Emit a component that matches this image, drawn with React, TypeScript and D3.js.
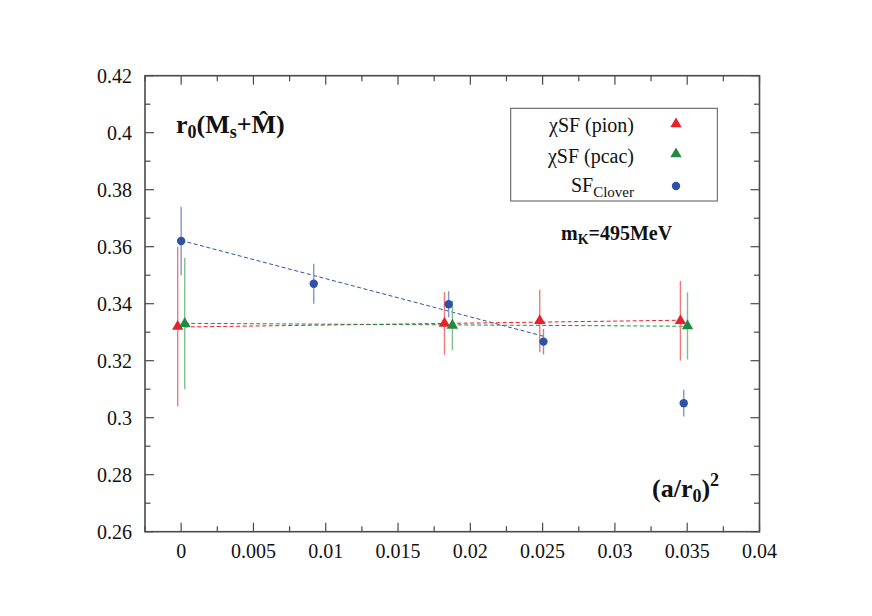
import React from "react";
import * as d3 from "d3";

const pionX = [-0.00024, 0.01821, 0.0248, 0.03453];
const pionY = [0.332, 0.3331, 0.334, 0.334];
const pionErr = [0.028, 0.011, 0.011, 0.014];

const pcacX = [0.00025, 0.01876, 0.03502];
const pcacY = [0.333, 0.3324, 0.3322];
const pcacErr = [0.023, 0.0087, 0.0118];

const cloverX = [0, 0.00917, 0.0185, 0.02506, 0.03476];
const cloverY = [0.362, 0.347, 0.3398, 0.3267, 0.3051];
const cloverErr = [0.012, 0.007, 0.0046, 0.0045, 0.0047];

const pionFitX = [-0.00024, 0.0345];
const pionFitY = [0.3318, 0.3342];
const pcacFitX = [0.00025, 0.0348];
const pcacFitY = [0.3331, 0.3321];
const cloverFitX = [0, 0.0252];
const cloverFitY = [0.3622, 0.3284];

const xTicks = [0, 0.005, 0.01, 0.015, 0.02, 0.025, 0.03, 0.035, 0.04];
const xTickLabels = ["0", "0.005", "0.01", "0.015", "0.02", "0.025", "0.03", "0.035", "0.04"];
const yTicks = [0.26, 0.28, 0.3, 0.32, 0.34, 0.36, 0.38, 0.4, 0.42];
const yTickLabels = ["0.26", "0.28", "0.3", "0.32", "0.34", "0.36", "0.38", "0.4", "0.42"];

const RED = "#e8202a";
const RED_BAR = "#f07a7a";
const GREEN = "#218a40";
const GREEN_BAR = "#7fbf8c";
const BLUE = "#2f52a6";
const BLUE_BAR = "#8494cc";

const FONT = "Liberation Serif, Times New Roman, Times, DejaVu Serif, serif";

export default function App() {
  const W = 872, H = 616;
  const L = 145, R = 759.5, T = 75.7, B = 531.7;
  const x = d3.scaleLinear().domain([-0.0025, 0.04]).range([L, R]);
  const y = d3.scaleLinear().domain([0.26, 0.42]).range([B, T]);
  const axisColor = "#4a4a4a";
  const ts = (size: number, bold = false): React.CSSProperties => ({
    fontFamily: FONT, fontSize: size, fontWeight: bold ? "bold" : "normal",
  });

  const minorX = d3.range(-0.0025, 0.04001, 0.0025);
  const minorY = d3.range(0.26, 0.42001, 0.01);
  const isMajorX = (v: number) => Math.abs(v / 0.005 - Math.round(v / 0.005)) < 1e-6;
  const isMajorY = (v: number) => Math.abs((v - 0.26) / 0.02 - Math.round((v - 0.26) / 0.02)) < 1e-6;

  const tri = d3.symbol().type(d3.symbolTriangle).size(56)();
  const line = d3.line<[number, number]>().x((d) => x(d[0])).y((d) => y(d[1]));

  const errBars = (xs: number[], ys: number[], es: number[], color: string, key: string) =>
    xs.map((xv, i) => (
      <line key={key + i} x1={x(xv)} x2={x(xv)} y1={y(ys[i] - es[i])} y2={y(ys[i] + es[i])}
        stroke={color} strokeWidth={1.4} />
    ));

  const fit = (xs: number[], ys: number[], color: string) => (
    <path d={line(xs.map((v, i) => [v, ys[i]] as [number, number])) || ""} fill="none"
      stroke={color} strokeWidth={1} strokeDasharray="4,2.5" />
  );

  return (
    <svg width={W} height={H} style={{ position: "absolute", left: 0, top: 0 }}>
      <rect x={0} y={0} width={W} height={H} fill="#fff" />
      {minorX.map((v, i) => {
        const len = isMajorX(v) ? 9 : 5.5;
        return (
          <g key={"tx" + i}>
            <line x1={x(v)} x2={x(v)} y1={B} y2={B - len} stroke={axisColor} strokeWidth={1.2} />
            <line x1={x(v)} x2={x(v)} y1={T} y2={T + len} stroke={axisColor} strokeWidth={1.2} />
          </g>
        );
      })}
      {minorY.map((v, i) => {
        const len = isMajorY(v) ? 9 : 5.5;
        return (
          <g key={"ty" + i}>
            <line x1={L} x2={L + len} y1={y(v)} y2={y(v)} stroke={axisColor} strokeWidth={1.2} />
            <line x1={R} x2={R - len} y1={y(v)} y2={y(v)} stroke={axisColor} strokeWidth={1.2} />
          </g>
        );
      })}
      <rect x={L} y={T} width={R - L} height={B - T} fill="none" stroke={axisColor} strokeWidth={1.6} />
      {xTicks.map((v, i) => (
        <text key={"xl" + i} x={x(v)} y={558} textAnchor="middle" style={ts(20)} fill="#111">
          {xTickLabels[i]}
        </text>
      ))}
      {yTicks.map((v, i) => (
        <text key={"yl" + i} x={132} y={y(v) + 7} textAnchor="end" style={ts(20)} fill="#111">
          {yTickLabels[i]}
        </text>
      ))}
      {fit(cloverFitX, cloverFitY, BLUE)}
      {fit(pionFitX, pionFitY, RED)}
      {fit(pcacFitX, pcacFitY, GREEN)}
      {errBars(pionX, pionY, pionErr, RED_BAR, "pe")}
      {errBars(pcacX, pcacY, pcacErr, GREEN_BAR, "ge")}
      {errBars(cloverX, cloverY, cloverErr, BLUE_BAR, "be")}
      {pionX.map((v, i) => (
        <path key={"pm" + i} d={tri || ""} transform={`translate(${x(v)},${y(pionY[i])})`} fill={RED} />
      ))}
      {pcacX.map((v, i) => (
        <path key={"gm" + i} d={tri || ""} transform={`translate(${x(v)},${y(pcacY[i])})`} fill={GREEN} />
      ))}
      {cloverX.map((v, i) => (
        <circle key={"bm" + i} cx={x(v)} cy={y(cloverY[i])} r={4.2} fill={BLUE} />
      ))}
      <rect x={510.7} y={108.3} width={206.6} height={92.7} fill="#fff" stroke="#555" strokeWidth={1} />
      <text x={634} y={131.5} textAnchor="end" style={ts(20)} fill="#111">χSF (pion)</text>
      <text x={634} y={162.5} textAnchor="end" style={ts(20)} fill="#111">χSF (pcac)</text>
      <text x={634} y={192} textAnchor="end" style={ts(20)} fill="#111">
        SF<tspan style={ts(15)} dy={5}>Clover</tspan>
      </text>
      <path d={tri || ""} transform="translate(676,124)" fill={RED} />
      <path d={tri || ""} transform="translate(676,154)" fill={GREEN} />
      <circle cx={676} cy={186} r={4.2} fill={BLUE} />
      <text x={561} y={240} style={ts(20, true)} fill="#111">
        m<tspan style={ts(14, true)} dy={4}>K</tspan><tspan dy={-4}>=495MeV</tspan>
      </text>
      <text x={176} y={133} style={ts(26, true)} fill="#111">
        r<tspan style={ts(18, true)} dy={5}>0</tspan><tspan dy={-5}>(M</tspan><tspan style={ts(18, true)} dy={5}>s</tspan><tspan dy={-5}>+M̂)</tspan>
      </text>
      <text x={652} y={497} style={ts(26, true)} fill="#111">
        (a/r<tspan style={ts(18, true)} dy={5}>0</tspan><tspan dy={-5}>)</tspan><tspan style={ts(18, true)} dy={-11}>2</tspan>
      </text>
    </svg>
  );
}
